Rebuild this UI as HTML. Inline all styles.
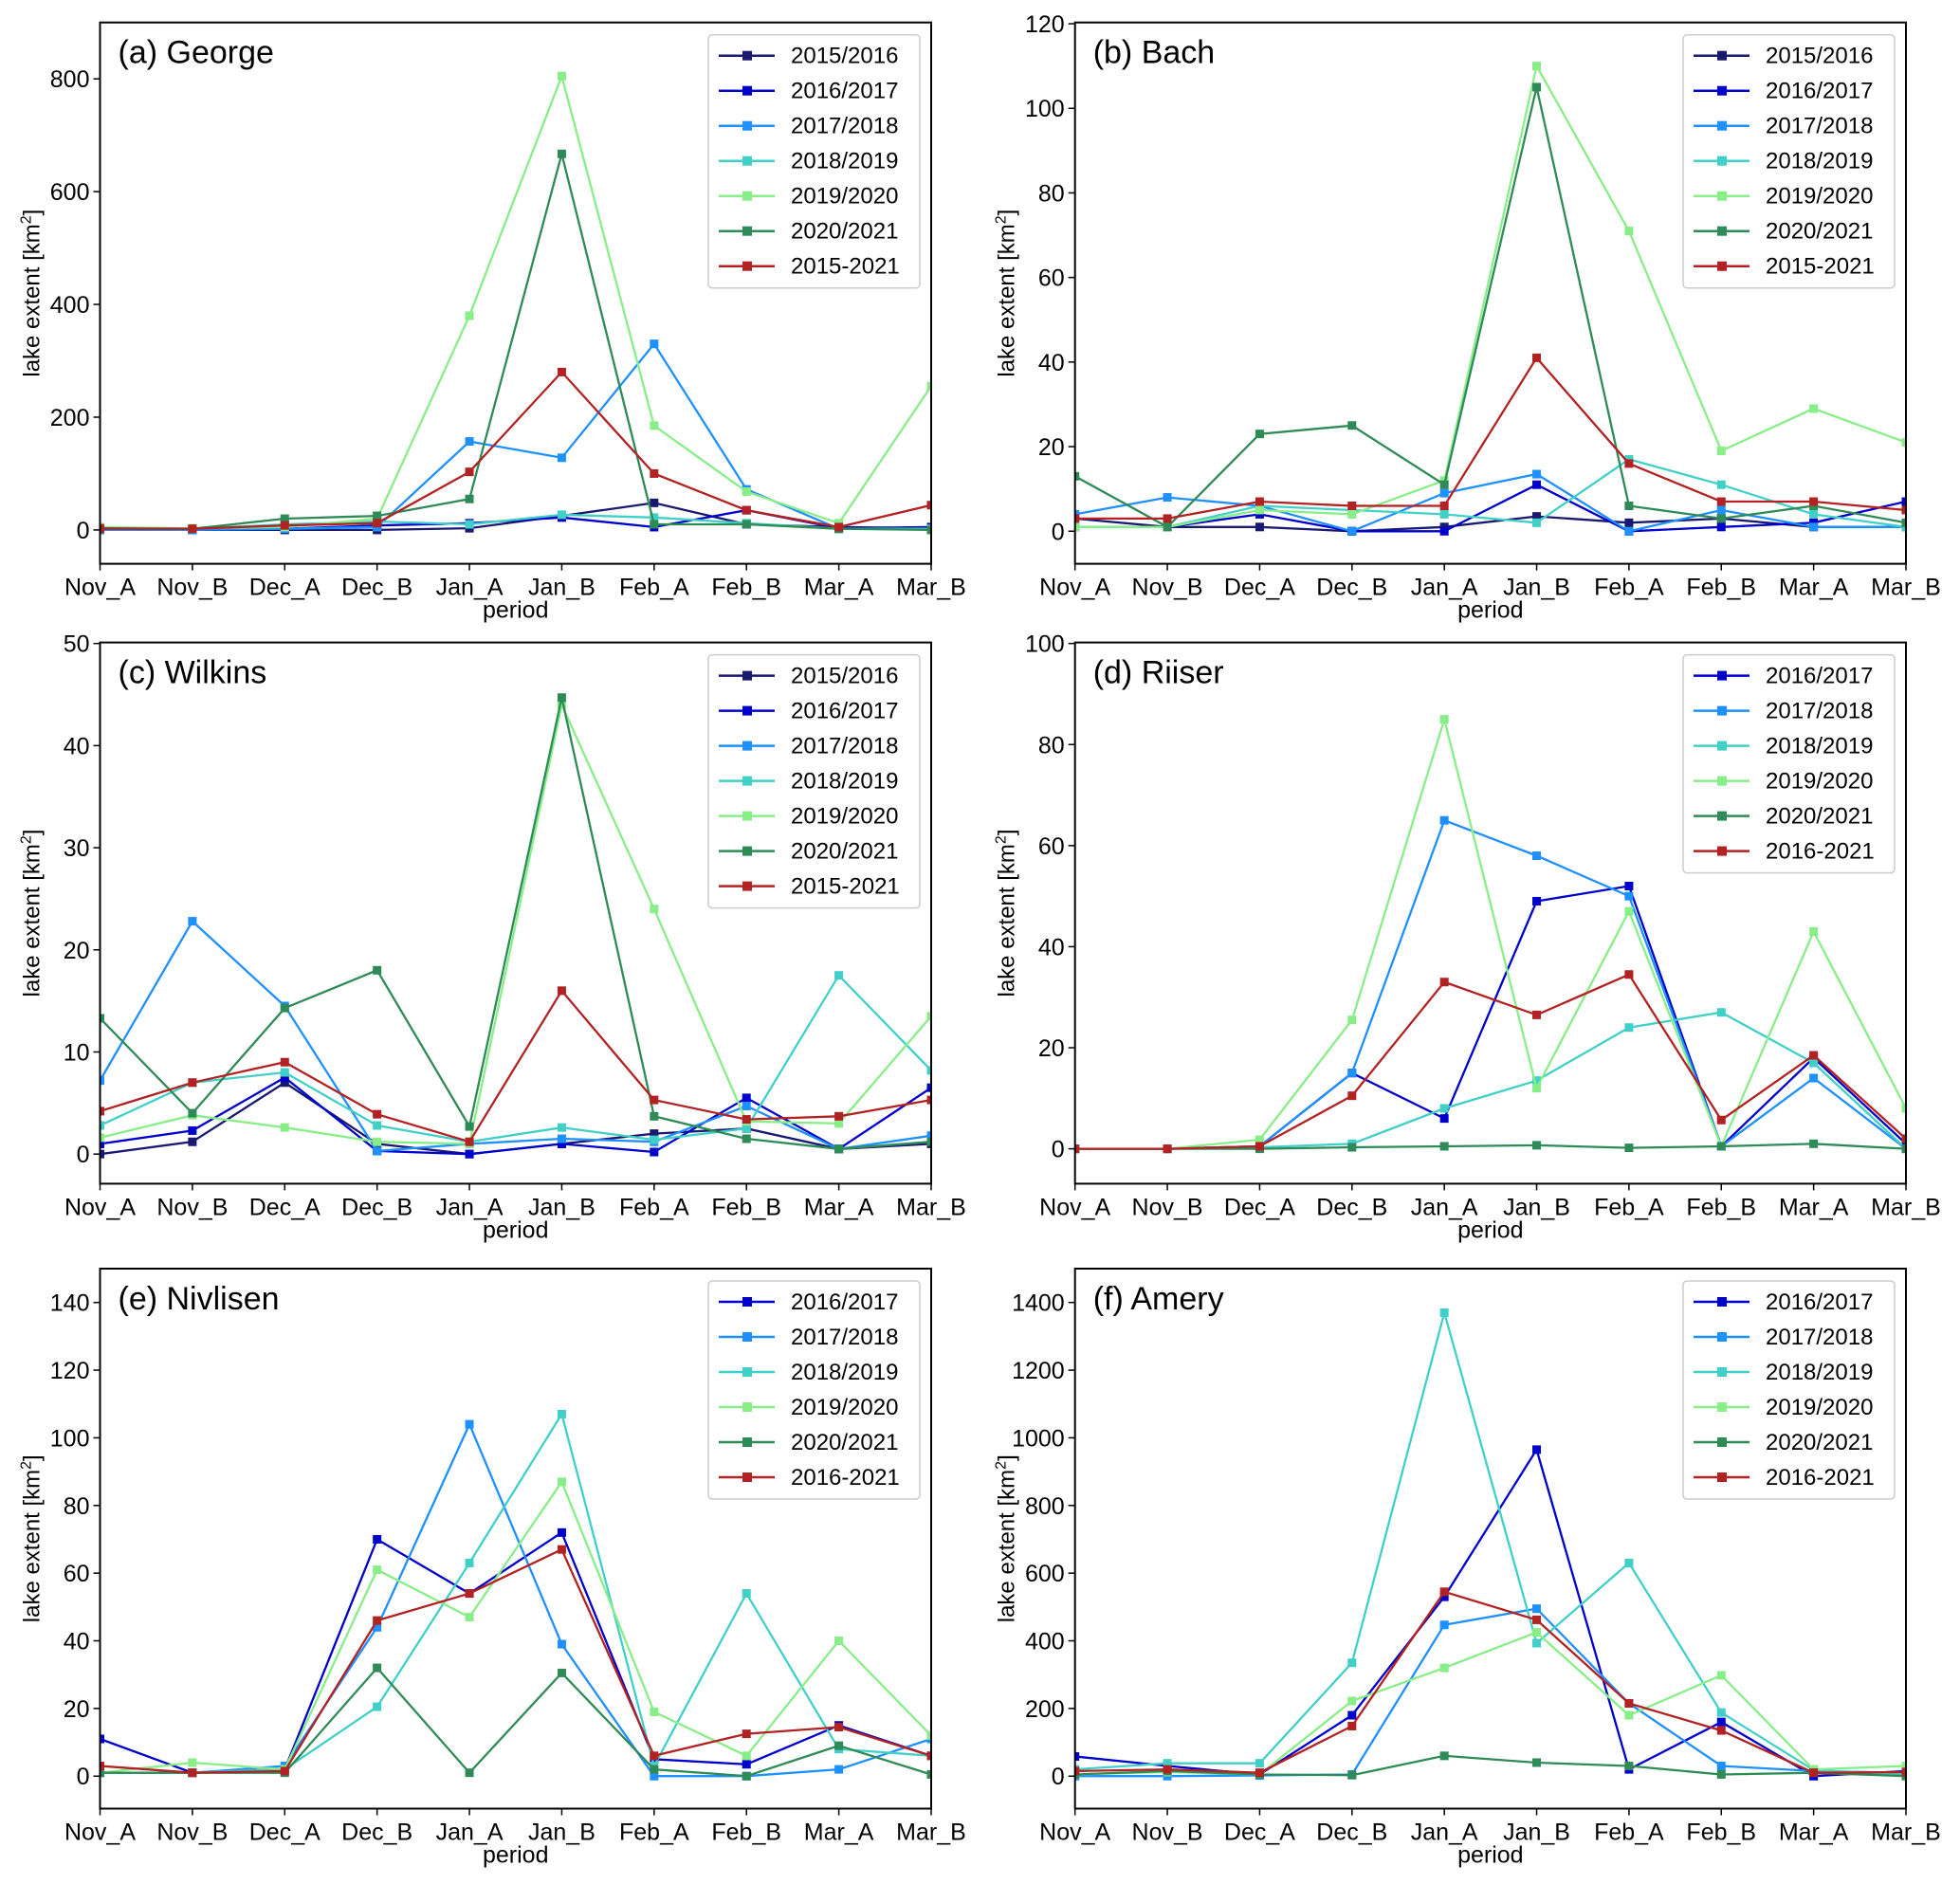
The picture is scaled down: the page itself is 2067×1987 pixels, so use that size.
<!DOCTYPE html>
<html><head><meta charset="utf-8"><style>
html,body{margin:0;padding:0;background:#fff;}
svg{display:block;font-family:"Liberation Sans",Arial,sans-serif;}
</style></head><body>
<svg id="fig" width="2067" height="1987" viewBox="0 0 2067 1987" xmlns="http://www.w3.org/2000/svg"></svg>
<script>
const periods = ["Nov_A","Nov_B","Dec_A","Dec_B","Jan_A","Jan_B","Feb_A","Feb_B","Mar_A","Mar_B"];

const george_1516 = [0,0,0,0,3,25,48,10,5,3];
const george_1617 = [0,0,2,8,12,22,5,35,3,5];
const george_1718 = [0,0,2,5,157,128,330,72,2,2];
const george_1819 = [3,2,10,15,10,27,22,12,2,2];
const george_1920 = [5,3,5,20,380,805,185,68,12,255];
const george_2021 = [3,2,20,25,55,667,10,10,2,0];
const george_mean = [2,2,8,12,103,280,100,35,5,44];
const george_ticks = [0,200,400,600,800];

const bach_1516 = [3,1,1,0,1,3.5,2,3,1,1];
const bach_1617 = [1,1,4,0,0,11,0,1,2,7];
const bach_1718 = [4,8,6,0,9,13.5,0,5,1,1];
const bach_1819 = [1,1,6,5,4,2,17,11,4,1];
const bach_1920 = [1,1,5,4,12,110,71,19,29,21];
const bach_2021 = [13,1,23,25,11,105,6,3,6,2];
const bach_mean = [3,3,7,6,6,41,16,7,7,5];
const bach_ticks = [0,20,40,60,80,100,120];

const wilkins_1516 = [0,1.2,7,1,0,1,2,2.5,0.5,1];
const wilkins_1617 = [1,2.3,7.5,0.3,0,1,0.2,5.5,0.5,6.5];
const wilkins_1718 = [7.2,22.8,14.5,0.3,1,1.5,1.2,4.7,0.5,1.8];
const wilkins_1819 = [2.8,7,8,2.8,1.2,2.6,1.4,2.5,17.5,8.2];
const wilkins_1920 = [1.6,3.8,2.6,1.2,1,44,24,3.2,3,13.5];
const wilkins_2021 = [13.3,4,14.3,18,2.7,44.7,3.7,1.5,0.5,1.2];
const wilkins_mean = [4.2,7,9,3.9,1.2,16,5.3,3.4,3.7,5.3];
const wilkins_ticks = [0,10,20,30,40,50];

const riiser_1617 = [0,0,0.5,15,6,49,52,0.5,18,1];
const riiser_1718 = [0,0,0.5,15,65,58,50,0.5,14,0];
const riiser_1819 = [0,0,0.3,1,8,13.5,24,27,17,0];
const riiser_1920 = [0,0,1.8,25.5,85,12,47,0.5,43,8];
const riiser_2021 = [0,0,0,0.3,0.5,0.7,0.2,0.5,1,0];
const riiser_mean = [0,0,0.5,10.5,33,26.5,34.5,5.7,18.5,2];
const riiser_ticks = [0,20,40,60,80,100];

const nivlisen_1617 = [11,1,2,70,54,72,5,3.5,15,6];
const nivlisen_1718 = [1,1,3,44,104,39,0,0,2,11];
const nivlisen_1819 = [1,1,2,20.5,63,107,3,54,8,6];
const nivlisen_1920 = [1,4,2,61,47,87,19,6,40,12];
const nivlisen_2021 = [1,1,1,32,1,30.5,2,0,9,0.5];
const nivlisen_mean = [3,1,1.5,46,54,67,6,12.5,14.5,6];
const nivlisen_ticks = [0,20,40,60,80,100,120,140];

const amery_1617 = [58,30,5,180,530,965,20,160,0,15];
const amery_1718 = [0,0,2,5,447,495,215,30,15,10];
const amery_1819 = [20,38,38,335,1370,393,630,188,18,5];
const amery_1920 = [5,12,5,222,320,425,180,298,20,30];
const amery_2021 = [5,15,5,3,60,40,30,5,10,0];
const amery_mean = [15,20,10,148,545,462,215,135,10,12];
const amery_ticks = [0,200,400,600,800,1000,1200,1400];

const C = {s1516:"#191970",s1617:"#0000CD",s1718:"#1E90FF",s1819:"#40D0C8",s1920:"#88EE88",s2021:"#2E8B57",mean:"#B22222"};
const NS="http://www.w3.org/2000/svg";
const svg=document.getElementById('fig');
function mk(tag,attrs,parent){const e=document.createElementNS(NS,tag);for(const k in attrs)e.setAttribute(k,attrs[k]);(parent||svg).appendChild(e);return e;}

const L1=105.5,R1=982,L2=1133.7,R2=2010;
const panels=[
 {key:"george",title:"(a) George",x0:L1,x1:R1,y0:23.7,y1:594.6,vmin:-60,vmax:900,ticks:george_ticks,series:[["2015/2016",george_1516,C.s1516],["2016/2017",george_1617,C.s1617],["2017/2018",george_1718,C.s1718],["2018/2019",george_1819,C.s1819],["2019/2020",george_1920,C.s1920],["2020/2021",george_2021,C.s2021],["2015-2021",george_mean,C.mean]]},
 {key:"bach",title:"(b) Bach",x0:L2,x1:R2,y0:23.7,y1:594.6,vmin:-7.7,vmax:120.3,ticks:bach_ticks,series:[["2015/2016",bach_1516,C.s1516],["2016/2017",bach_1617,C.s1617],["2017/2018",bach_1718,C.s1718],["2018/2019",bach_1819,C.s1819],["2019/2020",bach_1920,C.s1920],["2020/2021",bach_2021,C.s2021],["2015-2021",bach_mean,C.mean]]},
 {key:"wilkins",title:"(c) Wilkins",x0:L1,x1:R1,y0:677.6,y1:1248.4,vmin:-2.9,vmax:50.1,ticks:wilkins_ticks,series:[["2015/2016",wilkins_1516,C.s1516],["2016/2017",wilkins_1617,C.s1617],["2017/2018",wilkins_1718,C.s1718],["2018/2019",wilkins_1819,C.s1819],["2019/2020",wilkins_1920,C.s1920],["2020/2021",wilkins_2021,C.s2021],["2015-2021",wilkins_mean,C.mean]]},
 {key:"riiser",title:"(d) Riiser",x0:L2,x1:R2,y0:677.6,y1:1248.4,vmin:-6.9,vmax:100.2,ticks:riiser_ticks,series:[["2016/2017",riiser_1617,C.s1617],["2017/2018",riiser_1718,C.s1718],["2018/2019",riiser_1819,C.s1819],["2019/2020",riiser_1920,C.s1920],["2020/2021",riiser_2021,C.s2021],["2016-2021",riiser_mean,C.mean]]},
 {key:"nivlisen",title:"(e) Nivlisen",x0:L1,x1:R1,y0:1338,y1:1907.5,vmin:-9.6,vmax:150,ticks:nivlisen_ticks,series:[["2016/2017",nivlisen_1617,C.s1617],["2017/2018",nivlisen_1718,C.s1718],["2018/2019",nivlisen_1819,C.s1819],["2019/2020",nivlisen_1920,C.s1920],["2020/2021",nivlisen_2021,C.s2021],["2016-2021",nivlisen_mean,C.mean]]},
 {key:"amery",title:"(f) Amery",x0:L2,x1:R2,y0:1338,y1:1907.5,vmin:-96,vmax:1500,ticks:amery_ticks,series:[["2016/2017",amery_1617,C.s1617],["2017/2018",amery_1718,C.s1718],["2018/2019",amery_1819,C.s1819],["2019/2020",amery_1920,C.s1920],["2020/2021",amery_2021,C.s2021],["2016-2021",amery_mean,C.mean]]}
];

panels.forEach(p=>{
  const g=mk('g',{});
  
  
  const xs=i=>p.x0+(p.x1-p.x0)*i/(periods.length-1);
  const ys=v=>p.y1-(v-p.vmin)/(p.vmax-p.vmin)*(p.y1-p.y0);
  const clipId='clip-'+p.key;
  const cp=mk('clipPath',{id:clipId},g);
  mk('rect',{x:p.x0,y:p.y0,width:p.x1-p.x0,height:p.y1-p.y0},cp);
  p.ticks.forEach(t=>{
    const y=ys(t);
    const tk=mk('line',{x1:p.x0-7,x2:p.x0,y1:y,y2:y,stroke:'#000','stroke-width':1.5},g);
    
    
    const tl=mk('text',{x:p.x0-11,y:y+9,'text-anchor':'end','font-size':25,fill:'#000'},g);
    tl.textContent=t;
    
    
  });
  periods.forEach((c,i)=>{
    const x=xs(i);
    const tk=mk('line',{x1:x,x2:x,y1:p.y1,y2:p.y1+7,stroke:'#000','stroke-width':1.5},g);
    
    
    const tl=mk('text',{x:x,y:p.y1+33,'text-anchor':'middle','font-size':25,fill:'#000'},g);
    tl.textContent=c;
    
    
  });
  const xl=mk('text',{x:(p.x0+p.x1)/2,y:p.y1+57,'text-anchor':'middle','font-size':25,fill:'#000'},g);
  xl.textContent='period';
  
  
  const yc=(p.y0+p.y1)/2, yx=p.x0-64;
  const yl=mk('text',{x:yx,y:yc,'text-anchor':'middle','font-size':24,fill:'#000',transform:`rotate(-90 ${yx} ${yc})`},g);
  yl.innerHTML='lake extent [km<tspan dy="-9" font-size="16">2</tspan><tspan dy="9">]</tspan>';
  
  
  const sg=mk('g',{'clip-path':`url(#${clipId})`},g);
  p.series.forEach(s=>{
    const pts=s[1].map((v,i)=>xs(i).toFixed(1)+','+ys(v).toFixed(1)).join(' ');
    const pl=mk('polyline',{points:pts,fill:'none',stroke:s[2],'stroke-width':2.3},sg);
    
    
    s[1].forEach((v,i)=>{
      const m=mk('rect',{x:xs(i)-4.5,y:ys(v)-4.5,width:9,height:9,fill:s[2]},sg);
      
      
    });
  });
  const fr=mk('rect',{x:p.x0,y:p.y0,width:p.x1-p.x0,height:p.y1-p.y0,fill:'none',stroke:'#000','stroke-width':2},g);
  
  
  const ti=mk('text',{x:p.x0+19,y:p.y0+43,'font-size':34,fill:'#000'},g);
  ti.textContent=p.title;
  
  
  const lw=223, n=p.series.length, lh=n*37+8;
  const lx=p.x1-12-lw, ly=p.y0+13;
  const lg=mk('g',{},g);
  
  
  mk('rect',{x:lx,y:ly,width:lw,height:lh,rx:4,fill:'#fff','fill-opacity':0.85,stroke:'#ccc','stroke-width':1.5},lg);
  p.series.forEach((s,k)=>{
    const cy=ly+22+k*37;
    const le=mk('g',{},lg);
    
    
    mk('line',{x1:lx+11,x2:lx+70,y1:cy,y2:cy,stroke:s[2],'stroke-width':2.5},le);
    mk('rect',{x:lx+36,y:cy-5,width:10,height:10,fill:s[2]},le);
    const t=mk('text',{x:lx+87,y:cy+8,'font-size':24,fill:'#000'},le);
    t.textContent=s[0];
  });
});
</script>
</body></html>
